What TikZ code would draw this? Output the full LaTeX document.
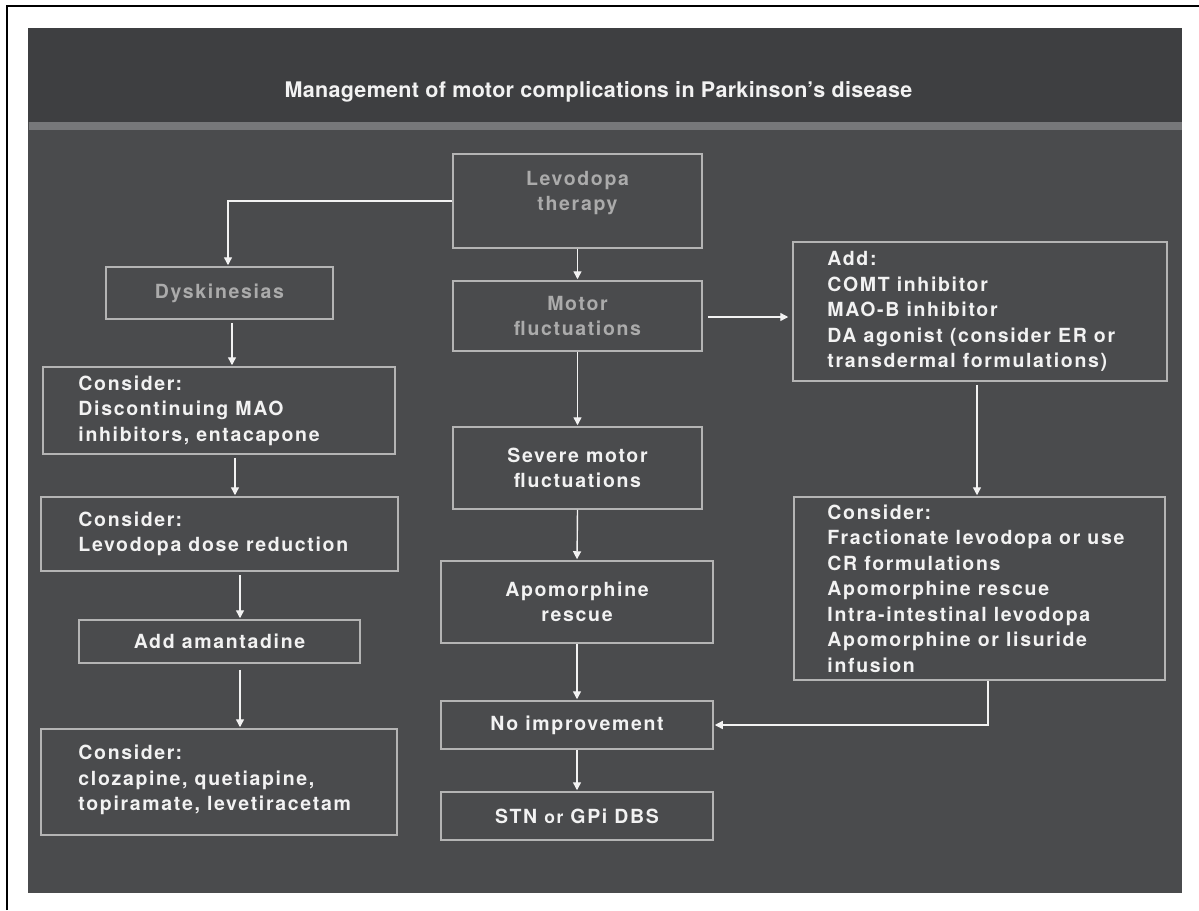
\documentclass[tikz,border=0pt]{standalone}
\usepackage{fontspec}
\setmainfont{TeX Gyre Heros}[LetterSpace=8.5]
\newfontfamily\titlefont{TeX Gyre Heros}[LetterSpace=1.5]
\usetikzlibrary{arrows.meta,calc}
\definecolor{titlebg}{HTML}{3E3F41}
\definecolor{panelbg}{HTML}{4A4B4D}
\definecolor{rulegray}{HTML}{77787A}
\definecolor{boxline}{HTML}{B4B4B4}
\definecolor{dimtext}{HTML}{ABABAB}
\definecolor{brighttext}{HTML}{F2F2F2}
\begin{document}
\begin{tikzpicture}[x=1pt,y=-1pt,
  font=\bfseries\fontsize{19.5}{25.5}\selectfont,
  box/.style={draw=boxline,line width=1.5pt,inner sep=0pt,text=brighttext,align=center},
  txt/.style={inner sep=0pt,text=brighttext,align=left,anchor=west},
  dim/.style={text=dimtext},
  arr/.style={draw=brighttext,line width=1.4pt,-{Triangle[length=8pt,width=8pt]},shorten <=3pt,shorten >=1pt}
]
\useasboundingbox (0,0) rectangle (1199,910);
\fill[white] (0,0) rectangle (1199,910);
\draw[black,line width=2pt] (7,910) -- (7,6) -- (1199,6);
\fill[panelbg] (28,28) rectangle (1182,893);
\fill[titlebg] (28,28) rectangle (1182,122);
\fill[rulegray] (29,122) rectangle (1182,130);
\node[text=brighttext,font=\titlefont\bfseries\fontsize{21.5}{24}\selectfont] (title) at (598.5,92) {Management of motor complications in Parkinson’s disease};

% centre column
\node[box,minimum width=249pt,minimum height=94pt] (lev) at (577.5,201) {};
\node[dim,align=center,inner sep=0pt] (levt) at (577.5,193) {Levodopa\\therapy};
\node[box,dim,minimum width=249pt,minimum height=70pt] (mf) at (577.5,316) {Motor\\fluctuations};
\node[box,minimum width=249pt,minimum height=82pt] (sev) at (577.5,468) {Severe motor\\fluctuations};
\node[box,minimum width=272pt,minimum height=82pt] (apo) at (577,602) {Apomorphine\\rescue};
\node[box,minimum width=272pt,minimum height=48pt] (noimp) at (577,725) {No improvement};
\node[box,minimum width=272pt,minimum height=48pt] (stn) at (577,816) {STN {\fontsize{17.5}{20}\selectfont or} GPi DBS};

% left column
\node[box,dim,minimum width=227pt,minimum height=52pt] (dys) at (219.5,293) {Dyskinesias};
\node[box,minimum width=352pt,minimum height=87pt] (c1) at (219,410.5) {};
\node[txt] (c1t) at ([xshift=36pt]c1.west) {Consider:\\Discontinuing MAO\\inhibitors, entacapone};
\node[box,minimum width=357pt,minimum height=74pt] (c2) at (219.5,534) {};
\node[txt] (c2t) at ([xshift=38pt]c2.west) {Consider:\\Levodopa dose reduction};
\node[box,minimum width=281pt,minimum height=43pt] (ama) at (219.5,641.5) {Add amantadine};
\node[box,minimum width=356pt,minimum height=106pt] (c3) at (219,782) {};
\node[txt] (c3t) at ([xshift=38pt,yshift=2pt]c3.west) {Consider:\\clozapine, quetiapine,\\topiramate, levetiracetam};

% right column
\node[box,minimum width=374pt,minimum height=139pt] (add) at (980,311.5) {};
\node[txt] (addt) at ([xshift=35pt]add.west) {Add:\\COMT inhibitor\\MAO-B inhibitor\\DA agonist (consider ER or\\transdermal formulations)};
\node[box,minimum width=371pt,minimum height=183pt] (cr) at (979.5,588.5) {};
\node[txt] (crt) at ([xshift=34pt]cr.west) {Consider:\\Fractionate levodopa or use\\CR formulations\\Apomorphine rescue\\Intra-intestinal levodopa\\Apomorphine or lisuride\\infusion};

% connectors
\path ([xshift=8.5pt]dys.north) coordinate (dysin);
\draw[arr,shorten <=0pt] (lev.west) -| (dysin);
\path ([xshift=12.5pt]dys.south) coordinate (d1);
\draw[arr] (d1) -- (d1 |- c1.north);
\path ([xshift=16pt]c1.south) coordinate (d2);
\draw[arr] (d2) -- (d2 |- c2.north);
\path ([xshift=20.5pt]c2.south) coordinate (d3);
\draw[arr] (d3) -- (d3 |- ama.north);
\path ([xshift=20.5pt]ama.south) coordinate (d4);
\draw[arr,shorten <=6pt] (d4) -- (d4 |- c3.north);

\draw[arr,shorten <=0pt] (lev.south) -- (mf.north);
\draw[arr,shorten <=0pt] (mf.south) -- (sev.north);
\draw[arr,shorten <=0pt] (sev.south) -- (apo.north);
\draw[arr,shorten <=0pt] (apo.south) -- (noimp.north);
\draw[arr,shorten <=0pt] (noimp.south) -- (stn.north);

\draw[arr,shorten <=5pt,shorten >=4pt] (mf.east |- 0,317) -- (add.west |- 0,317);
\path ([xshift=-3pt]add.south) coordinate (r1);
\draw[arr] (r1) -- (r1 |- cr.north);
\path ([xshift=8.5pt]cr.south) coordinate (r2);
\draw[arr,shorten <=0pt] (r2) |- (noimp.east);
\end{tikzpicture}
\end{document}
